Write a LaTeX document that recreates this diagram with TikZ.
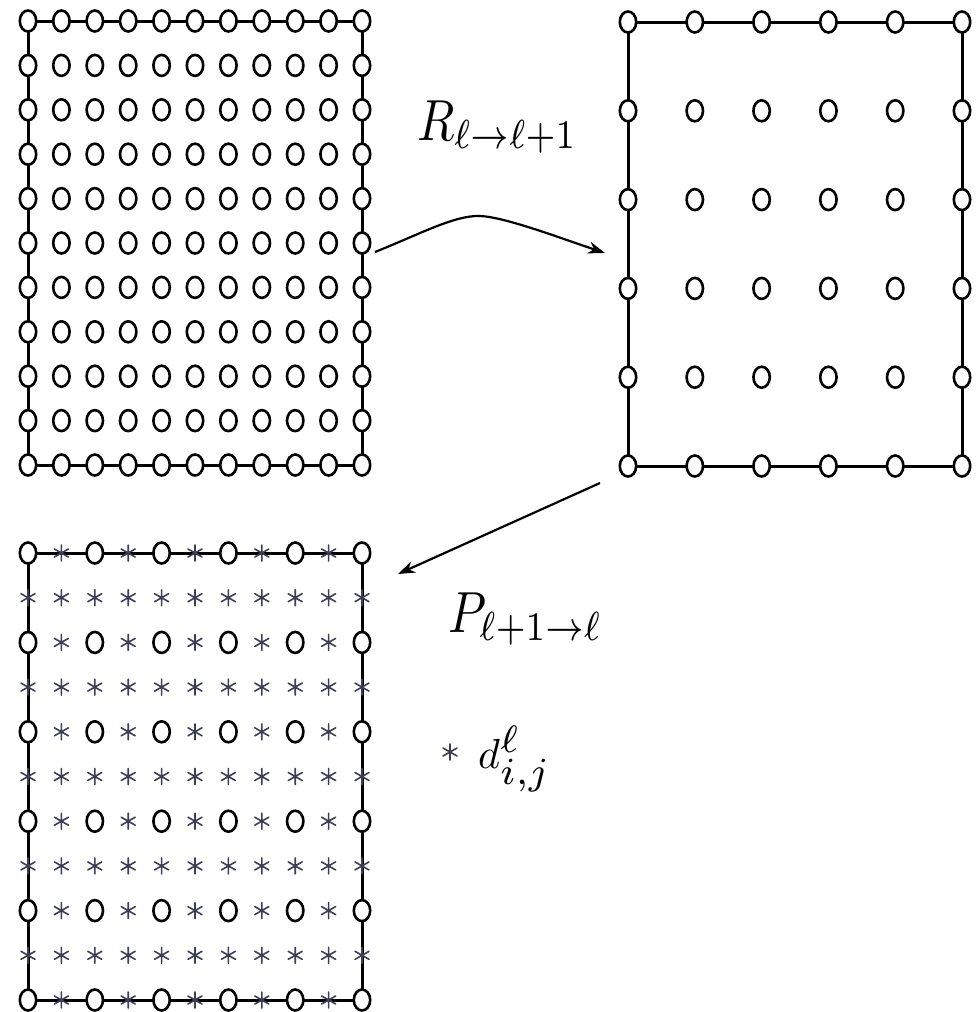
\documentclass[tikz,border=0pt]{standalone}
\usetikzlibrary{arrows.meta}
\definecolor{starc}{RGB}{60,62,85}
\tikzset{
  gridline/.style={line width=3pt, line cap=rect},
  dotc/.style={draw=black, line width=2.6pt, fill=white},
  arr/.style={line width=2.2pt, -{Stealth[length=17pt,width=12pt]}},
  lbl/.style={inner sep=0pt, anchor=base west},
  astk/.pic={\draw[starc, line width=1.6pt, line cap=round] (0,-8)--(0,8) (-7,-4)--(7,4) (-7,4)--(7,-4);}
}
\begin{document}
\begin{tikzpicture}[x=1pt,y=-1pt]
\useasboundingbox (0,0) rectangle (975,1012);
% ---- top-left grid (fine)
\coordinate (A1) at (28,21); \coordinate (A2) at (362,21);
\coordinate (A3) at (362,465); \coordinate (A4) at (28,465);
\draw[gridline] (A1) -- (A2) -- (A3) -- (A4) -- cycle;
\foreach \i in {0,...,10}{
  \foreach \j in {0,...,10}{
    \draw[dotc] ({28+33.4*\i},{21+44.4*\j}) ellipse [x radius=8.2pt, y radius=10.5pt];
  }
}
% ---- top-right grid (coarse)
\coordinate (B1) at (628,22); \coordinate (B2) at (962,22);
\coordinate (B3) at (962,466); \coordinate (B4) at (628,466);
\draw[gridline] (B1) -- (B2) -- (B3) -- (B4) -- cycle;
\foreach \i in {0,...,5}{
  \foreach \j in {0,...,5}{
    \draw[dotc] ({628+66.8*\i},{22+88.8*\j}) ellipse [x radius=8.2pt, y radius=10.5pt];
  }
}
% ---- bottom-left grid (prolongated)
\coordinate (C1) at (28,553); \coordinate (C2) at (362,553);
\coordinate (C3) at (362,1000); \coordinate (C4) at (28,1000);
\draw[gridline] (C1) -- (C2) -- (C3) -- (C4) -- cycle;
\foreach \i in {0,...,10}{
  \foreach \j in {0,...,10}{
    \pgfmathtruncatemacro{\ev}{(mod(\i,2)==0) && (mod(\j,2)==0)}
    \ifnum\ev=1
      \draw[dotc] ({28+33.4*\i},{553+44.7*\j}) ellipse [x radius=8.2pt, y radius=10.5pt];
    \else
      \pic at ({28+33.4*\i},{553+44.7*\j}) {astk};
    \fi
  }
}
% ---- arrows
\coordinate (r0) at (375,252);
\coordinate (r1) at (605,253);
\draw[arr] (r0) .. controls (420,234) and (455,215) .. (480,216)
               .. controls (505,217) and (560,238) .. (r1);
\coordinate (p0) at (600,483);
\coordinate (p1) at (398,574);
\draw[arr] (p0) -- (p1);
% ---- labels
\node[lbl] (R) at (417,140) {\scalebox{4.87}[5.8]{$R_{\ell\to\ell+1}$}};
\node[lbl] (P) at (448,632) {\scalebox{4.87}[5.8]{$P_{\ell+1\to\ell}$}};
\pic at (450,752) {astk};
\node[lbl] (D) at (478,768) {\scalebox{4.2}{$d^{\scalebox{1.3}{$\scriptstyle\ell$}}_{\scalebox{1.3}{$\scriptstyle i,j$}}$}};
\end{tikzpicture}
\end{document}
